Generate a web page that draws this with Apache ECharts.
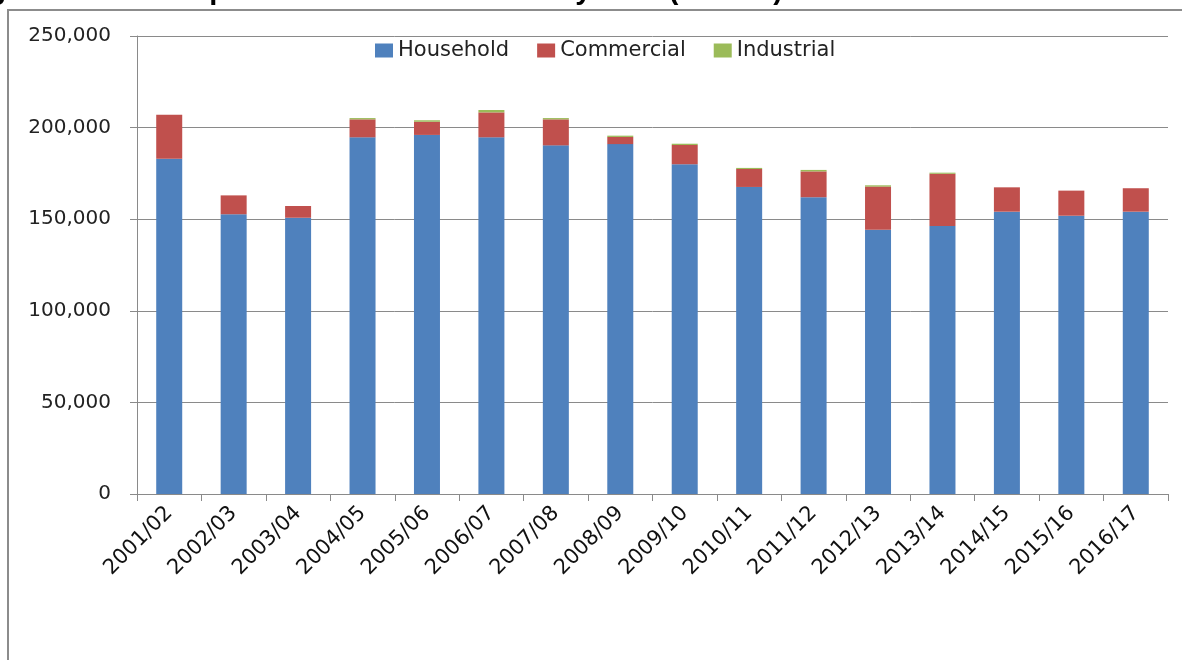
<!DOCTYPE html>
<html>
<head>
<meta charset="utf-8">
<title>Municipal solid waste collected (tonnes)</title>
<script src="https://cdn.jsdelivr.net/npm/echarts@6/dist/echarts.min.js"></script>
<style>
  html, body { margin: 0; padding: 0; background: #ffffff; }
  #chart { width: 1182px; height: 660px; }
</style>
</head>
<body>
<div id="chart"></div>
<script>
// Financial years
const years = ['2001/02', '2002/03', '2003/04', '2004/05', '2005/06', '2006/07', '2007/08', '2008/09',
               '2009/10', '2010/11', '2011/12', '2012/13', '2013/14', '2014/15', '2015/16', '2016/17'];

// Tonnes collected, by source
const household  = [183000, 152700, 150800, 194700, 196000, 194700, 190300, 191000,
                    180000, 167600, 162000, 144300, 146300, 154100, 151900, 154100];
const commercial = [24000, 10300, 6400, 9800, 7200, 13600, 14200, 3900,
                    10500, 9800, 14100, 23500, 28500, 13300, 13700, 12800];
const industrial = [0, 0, 0, 700, 800, 1300, 700, 700,
                    700, 600, 800, 700, 600, 0, 0, 0];

const yTicks = { min: 0, max: 250000, step: 50000 };

const chart = echarts.init(document.getElementById('chart'), null, { renderer: 'canvas' });

const fontFamily = 'DejaVu Sans';
const gridColor = '#8a8a8a';

function barSeries(name, data, color) {
  return {
    name: name,
    type: 'bar',
    stack: 'total',
    barWidth: 26,
    data: data,
    itemStyle: { color: color },
    emphasis: { disabled: true }
  };
}

chart.setOption({
  animation: false,
  backgroundColor: '#ffffff',
  graphic: [
    {
      type: 'rect',
      shape: { x: 8, y: 10, width: 1200, height: 700 },
      style: { fill: 'none', stroke: '#8c8c8c', lineWidth: 2 },
      silent: true,
      z: 0
    },
    {
      type: 'text',
      x: 783,
      y: 5,
      style: {
        text: 'Figure 8.1: Municipal solid waste collected by GES (tonnes)',
        font: 'bold 29px "Liberation Sans", Arial, sans-serif',
        fill: '#000000',
        align: 'right',
        verticalAlign: 'bottom'
      },
      silent: true,
      z: 10
    }
  ],
  legend: {
    left: 370,
    top: 35,
    icon: 'rect',
    itemWidth: 18,
    itemHeight: 14,
    itemGap: 28,
    textStyle: { fontFamily: fontFamily, fontSize: 21, color: '#222222' },
    data: ['Household', 'Commercial', 'Industrial']
  },
  grid: {
    left: 137,
    right: 14,
    top: 36,
    bottom: 166,
    containLabel: false
  },
  xAxis: {
    type: 'category',
    data: years,
    boundaryGap: true,
    axisLine: { show: true, lineStyle: { color: gridColor, width: 1 } },
    axisTick: { show: true, interval: 0, length: 7, lineStyle: { color: gridColor } },
    axisLabel: {
      interval: 0,
      rotate: 45,
      margin: 16,
      fontFamily: fontFamily,
      fontSize: 21,
      color: '#111111'
    }
  },
  yAxis: {
    type: 'value',
    min: yTicks.min,
    max: yTicks.max,
    interval: yTicks.step,
    axisLine: { show: true, lineStyle: { color: gridColor, width: 1 } },
    axisTick: { show: true, length: 7, lineStyle: { color: gridColor } },
    splitLine: { show: true, lineStyle: { color: gridColor, width: 1 } },
    axisLabel: {
      margin: 26,
      fontFamily: fontFamily,
      fontSize: 20,
      color: '#222222',
      formatter: function (v) { return v.toLocaleString('en-US'); }
    }
  },
  series: [
    barSeries('Household', household, '#4F81BD'),
    barSeries('Commercial', commercial, '#C0504D'),
    barSeries('Industrial', industrial, '#9BBB59')
  ]
});
</script>
</body>
</html>
